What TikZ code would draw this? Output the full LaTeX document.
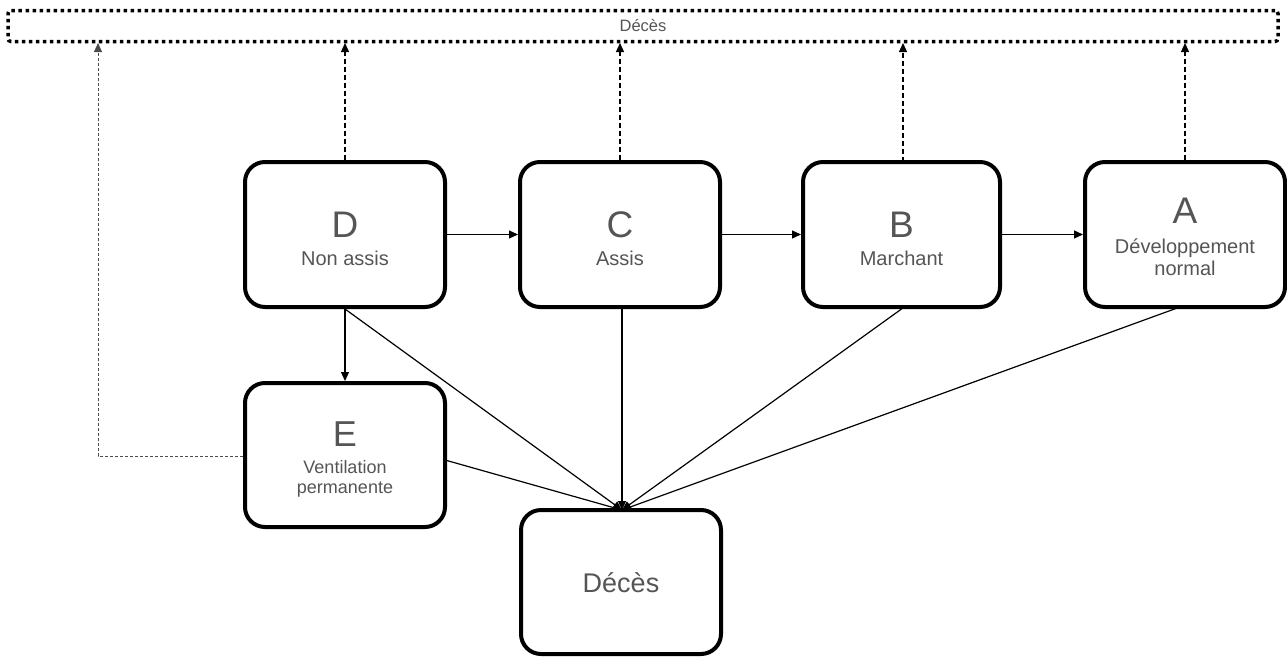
\documentclass[tikz,border=0pt]{standalone}
\usepackage{fontspec}
\setmainfont{Liberation Sans}
\usetikzlibrary{arrows.meta}
\definecolor{txt}{HTML}{555555}
\begin{document}
\begin{tikzpicture}[x=1pt,y=-1pt,
  box/.style={draw=black,line width=4pt,rounded corners=20pt,fill=white,minimum width=200pt,inner sep=0pt},
  lbl/.style={text=txt,anchor=base,inner sep=0pt,font=\fontsize{37}{40}\selectfont},
  sub/.style={text=txt,anchor=base,inner sep=0pt,font=\fontsize{20}{24}\selectfont},
  subs/.style={text=txt,anchor=base,inner sep=0pt,font=\fontsize{18}{22}\selectfont},
  tip/.style={-{Triangle[length=9pt,width=8pt]}},
  solidarrow/.style={tip,line width=1.2pt},
  upd/.style={tip,line width=1.3pt,dash pattern=on 5pt off 3pt},
  faint/.style={tip,line width=0.9pt,draw=black!70,dash pattern=on 3pt off 2pt}]
\useasboundingbox (0,0) rectangle (1287,656);
% top dotted box
\node[draw=black,line width=3.5pt,dash pattern=on 3.5pt off 3.5pt,rounded corners=3pt,minimum width=1270pt,minimum height=31pt,inner sep=0pt] (top) at (643,26) {};
\node[text=txt,anchor=base,inner sep=0pt,font=\fontsize{16.5}{18}\selectfont] (topt) at (643,31.5) {Décès};
% boxes
\node[box,minimum height=145pt] (D) at (345,234.5) {};
\node[box,minimum height=145pt] (C) at (620,234.5) {};
\node[box,minimum height=145pt,minimum width=197pt] (B) at (901.5,234.5) {};
\node[box,minimum height=145pt] (A) at (1185,234.5) {};
\node[box,minimum height=144pt] (E) at (345,455) {};
\node[box,minimum height=144pt] (X) at (621,582) {};
% texts
\node[lbl] (Dl) at (345,237) {D};
\node[sub] (Ds) at (345,265) {Non assis};
\node[lbl] (Cl) at (620,237) {C};
\node[sub] (Cs) at (620,265) {Assis};
\node[lbl] (Bl) at (901.5,237) {B};
\node[sub] (Bs) at (901.5,265) {Marchant};
\node[lbl] (Al) at (1185,223) {A};
\node[sub] (As1) at (1185,253) {Développement};
\node[sub] (As2) at (1185,275) {normal};
\node[lbl,font=\fontsize{36}{38}\selectfont] (El) at (345,446) {E};
\node[subs] (Es1) at (345,473) {Ventilation};
\node[subs] (Es2) at (345,493) {permanente};
\node[text=txt,anchor=base,inner sep=0pt,font=\fontsize{27}{30}\selectfont] (Xt) at (621,592.5) {Décès};
% dashed up arrows
\coordinate (tD) at (345,43);
\coordinate (tC) at (620,43);
\coordinate (tB) at (903,43);
\coordinate (tA) at (1185,43);
\coordinate (tE) at (98,43);
\coordinate (cE) at (98,456);
\coordinate (bB) at (903,162);
\draw[upd] (D.north) -- (tD);
\draw[upd] (C.north) -- (tC);
\draw[upd] (bB) -- (tB);
\draw[upd] (A.north) -- (tA);
\draw[faint] (E.west |- cE) -- (cE) -- (tE);
% horizontal arrows
\draw[solidarrow] (D.east) -- (C.west);
\draw[solidarrow] (C.east) -- (B.west);
\draw[solidarrow] (B.east) -- (A.west);
\draw[solidarrow] (D.south) -- (E.north);
% to death
\coordinate (xt) at (622,510);
\coordinate (sC) at (622,307);
\coordinate (sA) at (1180,307);
\coordinate (eE) at (445,460);
\draw[solidarrow] (D.south) -- (xt);
\draw[solidarrow] (sC) -- (xt);
\draw[solidarrow] (B.south) -- (xt);
\draw[solidarrow] (sA) -- (xt);
\draw[solidarrow] (eE) -- (xt);
\end{tikzpicture}
\end{document}
